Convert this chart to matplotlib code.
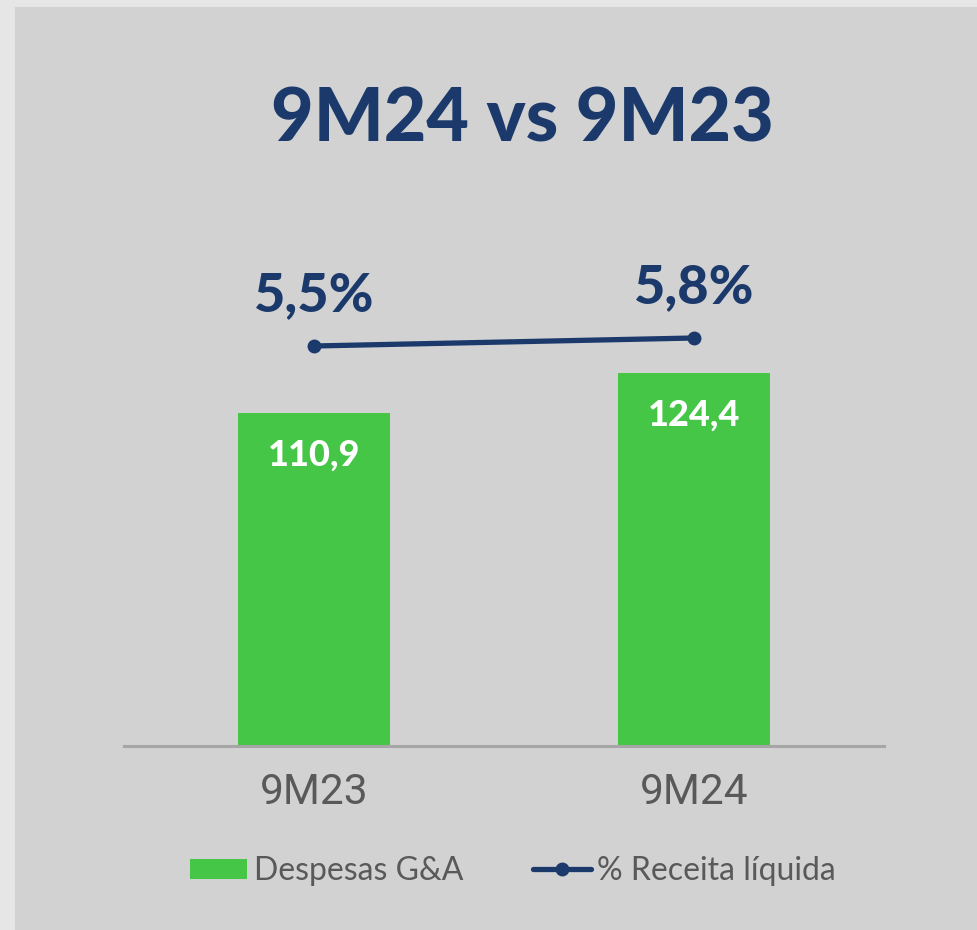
import numpy as np
from matplotlib import pyplot as plt
from matplotlib.patches import Rectangle

categories = ['9M23', '9M24']
despesas = [110.9, 124.4]
receita_pct = [5.5, 5.8]
bar_labels = ['110,9', '124,4']
pct_labels = ['5,5%', '5,8%']

green = '#45c646'
navy = '#1b3a6b'
grey_txt = '#595959'

W, H = 978, 930
fig = plt.figure(figsize=(W / 100, H / 100), dpi=100)
fig.patch.set_facecolor('#e6e6e6')
fig.patches.append(Rectangle((15 / W, 0), 1 - 15 / W, 1 - 7 / H,
                             transform=fig.transFigure, facecolor='#d2d2d2',
                             edgecolor='none', zorder=-10))

# axes box in pixels: x 124..884, y 200..746 (from top)
ax = fig.add_axes([124 / W, (H - 746) / H, 760 / W, 546 / H])
ax.set_facecolor('none')
x = np.arange(len(categories))
bars = ax.bar(x, despesas, width=0.4, color=green, label='Despesas G&A', zorder=2)
ax.set_xlim(-0.5, 1.5)
ax.set_ylim(0, 546 / 3.0)
for s in ['top', 'left', 'right']:
    ax.spines[s].set_visible(False)
ax.spines['bottom'].set_color('#a6a6a6')
ax.spines['bottom'].set_linewidth(2.2)
ax.set_yticks([])
ax.set_xticks(x)
ax.set_xticklabels(categories, fontsize=30.5, color=grey_txt, family='Roboto')
ax.tick_params(axis='x', length=0, pad=19)

for i, v in enumerate(despesas):
    ax.text(x[i], v - 14, bar_labels[i], ha='center', va='center',
            color='white', fontsize=26, fontweight='black', family='Lato')

ax2 = ax.twinx()
ax2.set_ylim(-9.5, 10.975)
ax2.axis('off')
line, = ax2.plot(x, receita_pct, color=navy, lw=3.8, marker='o', ms=9,
                 solid_capstyle='round', label='% Receita líquida', zorder=3)
for i, v in enumerate(receita_pct):
    ax2.annotate(pct_labels[i], (x[i], v), xytext=(0, 36), textcoords='offset points',
                 ha='center', va='center', color=navy, fontsize=39,
                 fontweight='black', family='Lato')

fig.text(522 / W, 1 - 120 / H, '9M24 vs 9M23', ha='center', va='center',
         color=navy, fontsize=53, fontweight='black', family='Lato')

fig.legend([bars, line], ['Despesas G&A', '% Receita líquida'],
           loc='center', bbox_to_anchor=(513 / W, 1 - 871 / H), ncol=2,
           frameon=False, prop={'family': 'Lato', 'size': 23},
           handlelength=1.8, handleheight=0.6, handletextpad=0.2,
           columnspacing=2.2, labelcolor=grey_txt)

fig.savefig('out.png', dpi=100, facecolor=fig.get_facecolor())
